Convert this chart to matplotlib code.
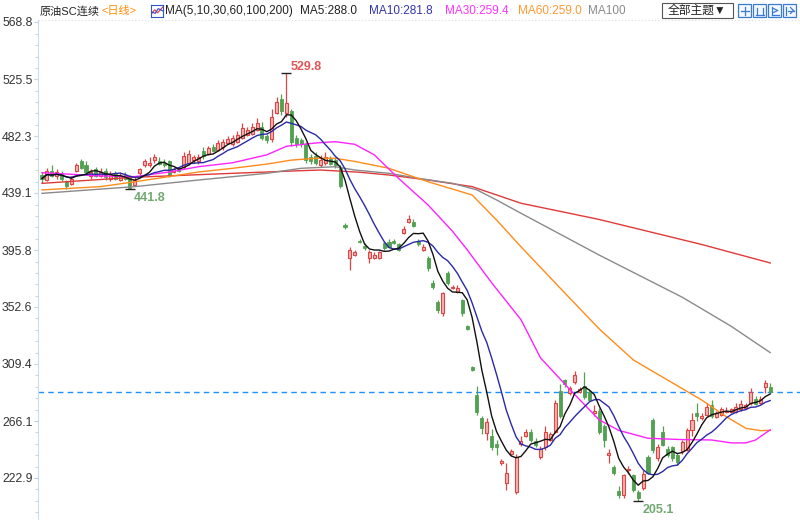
import matplotlib
matplotlib.use('Agg')
import matplotlib.pyplot as plt
import numpy as np
import pandas as pd
from matplotlib.patches import Rectangle
from matplotlib.lines import Line2D

plt.rcParams['font.family'] = ['Liberation Sans', 'Noto Sans CJK SC', 'DejaVu Sans']

# daily candles (oldest first)
opens = [453, 449, 456, 452, 454, 448, 446, 456, 463, 460,
         452, 457, 452, 456, 450, 454, 449, 453, 452, 445,
         454, 460, 460, 464, 463, 462, 463, 455, 458, 459,
         462, 464, 463, 471, 469, 474, 472, 474, 477, 476,
         478, 481, 483, 484, 487, 489, 482, 480, 500, 510,
         500, 501, 481, 479, 476, 466, 467, 460, 462, 465,
         464, 458, 415, 390, 392, 403, 399, 390, 390, 390,
         401, 402, 403, 400, 409, 417, 417, 403, 396, 390,
         371, 356, 348, 378, 367, 364, 358, 338, 307, 286,
         268, 257, 255, 249, 234, 219, 241, 212, 249, 255,
         258, 251, 239, 246, 252, 258, 289, 297, 287, 296,
         288, 293, 288, 272, 274, 262, 240, 231, 213, 210,
         229, 225, 212, 215, 239, 267, 238, 258, 245, 246,
         240, 243, 244, 259, 272, 268, 271, 278, 269, 271,
         273, 273, 273, 275, 276, 280, 283, 280, 292, 292]
highs = [455, 458, 460, 457, 456, 449, 452, 462, 465, 463,
         457, 459, 458, 458, 456, 456, 455, 455, 453, 451,
         458, 465, 466, 469, 466, 465, 464, 459, 459, 470,
         472, 468, 469, 474, 475, 476, 479, 480, 482, 483,
         486, 492, 489, 492, 496, 493, 484, 503, 512, 514,
         529.8, 503, 483, 481, 478, 469, 470, 468, 470, 467,
         466, 460, 416, 398, 396, 404, 401, 396, 394, 395,
         402, 404, 404, 401, 414, 422, 419, 404, 400, 391,
         373, 358, 364, 380, 369, 369, 359, 339, 308, 293,
         270, 268, 260, 252, 237, 234, 245, 241, 255, 260,
         260, 253, 247, 262, 258, 282, 294, 298, 293, 304,
         292, 303, 290, 278, 276, 264, 245, 233, 217, 226,
         232, 226, 214, 229, 240, 268, 249, 262, 247, 247,
         242, 252, 261, 272, 280, 272, 280, 282, 274, 277,
         277, 276, 280, 282, 280, 291, 285, 285, 297, 295]
lows = [447, 448, 451, 450, 448, 442, 445, 455, 457, 453,
        450, 451, 451, 449, 448, 449, 448, 449, 441.8, 444,
        453, 459, 459, 462, 460, 459, 451, 454, 455, 457,
        460, 462, 461, 465, 468, 470, 471, 472, 476, 475,
        477, 480, 482, 483, 486, 479, 477, 478, 499, 498,
        497, 475, 474, 474, 462, 461, 460, 459, 460, 460,
        458, 443, 412, 381, 391, 401, 396, 386, 389, 389,
        396, 397, 400, 395, 408, 416, 413, 399, 395, 380,
        366, 348, 346, 369, 366, 363, 346, 335, 304, 271,
        256, 252, 244, 240, 233, 214, 240, 211, 247, 254,
        250, 246, 237, 244, 251, 257, 268, 292, 286, 294,
        287, 283, 281, 270, 256, 246, 234, 225, 208, 208,
        226, 212, 205.1, 214, 226, 242, 236, 247, 239, 236,
        233, 241, 243, 255, 266, 267, 270, 268, 268, 270,
        272, 272, 272, 274, 275, 278, 278, 279, 287, 287]
closes = [450, 456, 452, 455, 450, 444, 450, 460, 458, 455,
          455, 452, 455, 451, 453, 450, 452, 450, 443, 449,
          457, 463, 462, 466, 461, 460, 452, 457, 456, 467,
          469, 466, 466, 467, 473, 471, 477, 478, 480, 481,
          483, 488, 487, 489, 492, 481, 479, 497, 508, 501,
          507, 478, 476, 476, 464, 463, 462, 464, 466, 461,
          460, 444, 413, 396, 394, 402, 397, 394, 392, 394,
          397, 398, 401, 396, 412, 419, 414, 400, 398, 382,
          368, 350, 363, 371, 368, 367, 348, 336, 305, 273,
          261, 265, 246, 246, 236, 227, 243, 239, 251, 258,
          252, 248, 245, 258, 256, 280, 270, 294, 291, 301,
          290, 284, 282, 274, 258, 252, 242, 227, 210, 225,
          230, 214, 208, 226, 227, 244, 246, 248, 240, 238,
          235, 250, 259, 267, 270, 270, 277, 270, 272, 275,
          274, 275, 277, 279, 278, 288, 279, 283, 295, 288]

# longer averages (bar index, value)
ma30_idx = [0, 12, 19, 26, 32, 39, 46, 50, 56, 60, 64, 68, 73, 79, 84, 87, 92, 98,
            102, 108, 114, 118, 124, 131, 137, 141, 144, 146, 149]
ma30_val = [454.5, 452, 451.5, 455, 459, 462, 468, 474.5, 477, 478, 476, 468, 450, 430,
            410, 396, 371, 343, 314, 290, 267, 259, 253, 252, 251.7, 249.5, 249.5, 251.7, 259.4]
ma60_idx = [0, 12, 19, 26, 32, 39, 46, 51, 56, 60, 64, 71, 73, 79, 88, 93, 98, 106,
            114, 121, 128, 135, 140, 144, 147, 149]
ma60_val = [441.4, 443.9, 447.6, 451.5, 455, 457.8, 461, 464, 465.4, 465.4, 463, 457.8,
            455.2, 447.6, 437.6, 418.6, 398.3, 367, 336, 312.4, 297.2, 282, 269.4, 260.6,
            258.8, 259.0]
ma100_idx = [0, 19, 32, 46, 53, 60, 64, 71, 77, 84, 89, 93, 98, 114, 131, 141, 149]
ma100_val = [438.8, 443.9, 448.9, 454, 457.8, 459, 456.5, 454, 450.2, 446.4, 441.4,
             433.8, 423.7, 392, 360, 338, 318]
ma200_idx = [0, 19, 39, 53, 57, 65, 71, 79, 88, 98, 114, 135, 149]
ma200_val = [446.4, 451, 454, 456, 456.5, 454.8, 452.7, 448.9, 443.9, 431.3, 419, 400, 386]

y_ticks = [568.8, 525.5, 482.3, 439.1, 395.8, 352.6, 309.4, 266.1, 222.9]
last_price = 288.0

RED_EDGE = '#dd4444'
RED_FACE = '#f4b4b4'
GREEN = '#52a052'

fig = plt.figure(figsize=(8, 5.2), dpi=100)
ax = fig.add_axes([38 / 800, 0, 762 / 800, 500 / 520])

x = np.arange(len(closes))
o = np.array(opens, float)
c = np.array(closes, float)
h = np.array(highs, float)
l = np.array(lows, float)
up = c >= o

# wicks
ax.vlines(x[up], l[up], h[up], color=RED_EDGE, lw=0.9, zorder=2)
ax.vlines(x[~up], l[~up], h[~up], color=GREEN, lw=0.9, zorder=2)
# bodies
body_lo = np.minimum(o, c)
body_h = np.maximum(np.abs(c - o), 0.6)
ax.bar(x[up], body_h[up], bottom=body_lo[up], width=0.62, color=RED_FACE,
       edgecolor=RED_EDGE, linewidth=0.8, zorder=3)
ax.bar(x[~up], body_h[~up], bottom=body_lo[~up], width=0.62, color=GREEN,
       edgecolor=GREEN, linewidth=0.6, zorder=3)

# moving averages
s = pd.Series(closes, dtype=float)
ma5 = s.rolling(5, min_periods=1).mean()
ma10 = s.rolling(10, min_periods=1).mean()
ax.plot(ma200_idx, ma200_val, color='#e03a3a', lw=1.0, zorder=4)
ax.plot(ma100_idx, ma100_val, color='#8a8a8a', lw=1.0, zorder=4)
ax.plot(ma60_idx, ma60_val, color='#ff8c1a', lw=1.0, zorder=4)
ax.plot(ma30_idx, ma30_val, color='#ff22ff', lw=1.0, zorder=4)
ax.plot(x, ma10, color='#2a2aa8', lw=1.0, zorder=5)
ax.plot(x, ma5, color='#111111', lw=1.0, zorder=6)

# last price line
ax.axhline(last_price, color='#1e90ff', lw=1.0, ls=(0, (4, 3)), zorder=1)
ax.axhline(570.0, color='#dddddd', lw=0.8, ls=(0, (1, 2)), zorder=1)

# extreme markers
i_hi = int(np.argmax(h))
ax.plot(i_hi, h[i_hi], marker='_', ms=7, color='#222222', mew=1.0, zorder=7)
ax.annotate(f'{h[i_hi]:.1f}', (i_hi, h[i_hi]), xytext=(3, 4.5), textcoords='offset points',
            ha='left', va='center', color='#e05555', fontsize=9, fontweight='bold')
i_lo1 = int(np.argmin(l[:40]))
ax.plot(i_lo1, l[i_lo1], marker='_', ms=7, color='#222222', mew=1.0, zorder=7)
ax.annotate(f'{l[i_lo1]:.1f}', (i_lo1, l[i_lo1]), xytext=(2.5, -6.5), textcoords='offset points',
            ha='left', va='center', color='#72a872', fontsize=9, fontweight='bold')
i_lo2 = int(np.argmin(l))
ax.plot(i_lo2, l[i_lo2], marker='_', ms=7, color='#222222', mew=1.0, zorder=7)
ax.annotate(f'{l[i_lo2]:.1f}', (i_lo2, l[i_lo2]), xytext=(3.5, -6), textcoords='offset points',
            ha='left', va='center', color='#72a872', fontsize=9, fontweight='bold')

ax.set_xlim(-0.82, 155.1)
ax.set_ylim(191.0, 570.3)
ax.set_xticks([])
ax.set_yticks(y_ticks)
ax.set_yticklabels([f'{v:.1f}' for v in y_ticks])
ax.set_yticks(np.arange(222.9 - 8.64 * 3, 570, 43.2 / 5), minor=True)
ax.tick_params(axis='y', which='major', length=3, width=0.8, color='#b8cde0',
               labelsize=8.8, labelcolor='#333333', pad=1)
ax.tick_params(axis='y', which='minor', length=2, width=0.8, color='#c8d8e8')
for side in ['top', 'right', 'bottom']:
    ax.spines[side].set_visible(False)
ax.spines['left'].set_color('#c8dbee')

# header line
ty = 1 - 11 / 520
fig.text(40 / 800, ty, '原油SC连续', color='#222222', fontsize=8.0, va='center')
fig.text(102 / 800, ty, '<日线>', color='#ff8a00', fontsize=8.0, va='center')
ic = fig.add_axes([151 / 800, 1 - 17 / 520, 12 / 800, 12 / 520])
ic.set_xticks([]); ic.set_yticks([])
for sp in ic.spines.values():
    sp.set_color('#3355cc')
ic.plot([0, 0.3, 0.55, 1], [0.2, 0.6, 0.35, 0.85], color='#dd3333', lw=0.8)
ic.plot([0, 0.35, 0.6, 1], [0.45, 0.3, 0.7, 0.5], color='#3344cc', lw=0.8)
ic.set_xlim(0, 1); ic.set_ylim(0, 1)
fig.text(165 / 800, ty, 'MA(5,10,30,60,100,200)', color='#222222', fontsize=8.5, va='center')
fig.text(300 / 800, ty, 'MA5:288.0', color='#222222', fontsize=8.5, va='center')
fig.text(369 / 800, ty, 'MA10:281.8', color='#3333aa', fontsize=8.5, va='center')
fig.text(445 / 800, ty, 'MA30:259.4', color='#ff33ff', fontsize=8.5, va='center')
fig.text(518 / 800, ty, 'MA60:259.0', color='#ff9933', fontsize=8.5, va='center')
fig.text(588 / 800, ty, 'MA100', color='#8a8a8a', fontsize=8.5, va='center')

fig.add_artist(Rectangle((662 / 800, 1 - 18 / 520), 71 / 800, 15 / 520,
                         transform=fig.transFigure, facecolor='white',
                         edgecolor='#555555', lw=0.8))
fig.text(697 / 800, 1 - 10.5 / 520, '全部主题▼', color='#222222', fontsize=8.5,
         ha='center', va='center')
for k in range(4):
    x0 = 738 + k * 15
    fig.add_artist(Rectangle((x0 / 800, 1 - 17 / 520), 13 / 800, 13 / 520,
                             transform=fig.transFigure, facecolor='#f4f8ff',
                             edgecolor='#3a7bd5', lw=0.9))
    cx, cy = x0 + 6.5, 10.5
    if k == 0:
        segs = [((cx - 4, cy), (cx + 4, cy)), ((cx, cy - 4), (cx, cy + 4))]
    elif k == 1:
        segs = [((cx - 3, cy - 3), (cx - 3, cy + 4)), ((cx + 3, cy - 3), (cx + 3, cy + 4)),
                ((cx - 4, cy + 4), (cx + 4, cy + 4))]
    elif k == 2:
        segs = [((cx - 3, cy - 4), (cx - 3, cy + 4)), ((cx - 1, cy - 2), (cx + 3, cy)),
                ((cx + 3, cy), (cx - 1, cy + 2)), ((cx - 3, cy + 4), (cx + 4, cy + 4))]
    else:
        segs = [((cx - 4, cy - 4), (cx - 4, cy + 4)), ((cx - 2, cy), (cx + 4, cy)),
                ((cx + 1, cy - 3), (cx + 4, cy)), ((cx + 4, cy), (cx + 1, cy + 3))]
    for (a, b) in segs:
        fig.add_artist(Line2D([a[0] / 800, b[0] / 800], [1 - a[1] / 520, 1 - b[1] / 520],
                              transform=fig.transFigure, color='#3a7bd5', lw=0.9))

fig.savefig('out.png', dpi=100)
